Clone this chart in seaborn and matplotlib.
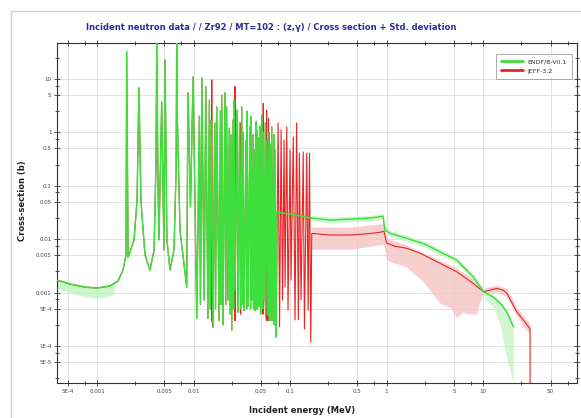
import numpy as np
import pandas as pd
import matplotlib
matplotlib.use("Agg")
import matplotlib.pyplot as plt
import seaborn as sns
from matplotlib.ticker import FixedLocator, FixedFormatter, NullFormatter
from matplotlib.patches import Rectangle
from matplotlib.lines import Line2D

# ENDF/B-VII.1 capture cross section (E in MeV, sigma in b)
endf_e = [3.85e-4, 5.25e-4, 7.5e-4, 1.0e-3, 1.36e-3, 1.65e-3, 1.86e-3, 2.0e-3,
          2.03e-3, 2.1e-3, 2.42e-3, 2.6e-3, 2.72e-3, 2.85e-3, 3.14e-3, 3.54e-3,
          3.9e-3, 4.09e-3, 4.16e-3, 4.28e-3, 4.38e-3, 4.68e-3, 4.94e-3, 5.07e-3,
          5.3e-3, 5.7e-3, 6.28e-3, 6.6e-3, 6.7e-3, 6.8e-3, 7.24e-3, 8.5e-3,
          8.77e-3, 9.3e-3, 9.9e-3, 0.0108, 0.0115, 0.0118, 0.0122, 0.0129,
          0.0134, 0.0141, 0.0146, 0.0149, 0.0152, 0.0159, 0.0166, 0.0169,
          0.0174, 0.0184, 0.0190, 0.0193, 0.0196, 0.0202, 0.0212, 0.0216,
          0.0220, 0.0228, 0.0235, 0.0240, 0.0244, 0.0249, 0.0257, 0.0260,
          0.0263, 0.0269, 0.0282, 0.0289, 0.0300, 0.0308, 0.0316, 0.0321,
          0.0326, 0.0334, 0.0350, 0.0355, 0.0360, 0.0367, 0.0385, 0.0390,
          0.0395, 0.0403, 0.0415, 0.0419, 0.0424, 0.0434, 0.0445, 0.0448,
          0.0452, 0.0460, 0.0466, 0.0477, 0.0490, 0.0497, 0.0513, 0.0520,
          0.0526, 0.0537, 0.0555, 0.0561, 0.0578, 0.0590, 0.0605, 0.0612,
          0.0625, 0.0634, 0.0646, 0.0665, 0.0680, 0.0688, 0.0700, 0.0716,
          0.073, 0.113, 0.168, 0.26, 0.42, 0.675, 0.92, 0.96, 1.08, 1.62,
          2.5, 3.58, 5.33, 7.87, 10.1, 12.7, 15.0, 17.6, 20.6]
endf_s = [1.72e-3, 1.45e-3, 1.27e-3, 1.22e-3, 1.33e-3, 1.65e-3, 2.65e-3, 5.1e-3,
          32.0, 4.6e-3, 9.7e-3, 0.054, 6.8, 0.054, 5.1e-3, 2.65e-3,
          6.3e-3, 0.30, 60.0, 0.128, 9.7e-3, 3.7, 6.3e-3, 22.7,
          9.7e-3, 2.65e-3, 6.3e-3, 0.198, 60.0, 1.86, 0.0149, 1.27e-3,
          5.5, 0.04, 10.9, 3.3e-4, 2.0, 6e-4, 10.4, 7.3e-4,
          7.1, 3.3e-4, 4.0, 5e-4, 1.7, 2.27e-4, 1.5, 5e-4,
          3.0, 3.0e-4, 2.5, 6e-4, 5.0, 2.5e-4, 5.5, 6e-4,
          3.0, 7.3e-4, 1.2, 4e-4, 0.9, 2.0e-4, 1.7, 5e-4,
          4.0, 1.1e-3, 2.6, 4.3e-4, 1.5, 5e-4, 3.0, 6e-4,
          1.0, 4.6e-4, 0.72, 5e-4, 2.5, 5.6e-4, 1.26, 5e-4,
          2.0, 7.3e-4, 0.9, 5e-4, 0.47, 4.6e-4, 1.6, 5e-4,
          1.11, 5e-4, 0.8, 5.6e-4, 1.3, 4e-4, 2.1, 5e-4,
          1.0, 7.3e-4, 1.5, 4e-4, 0.72, 3.8e-4, 1.0, 3e-4,
          0.6, 3e-4, 1.26, 3.0e-4, 0.9, 2.5e-4, 0.47, 1.48e-4,
          0.0324, 0.0284, 0.0249, 0.0228, 0.0238, 0.0249, 0.027, 0.0149, 0.013, 0.0104,
          8.1e-3, 5.8e-3, 4.07e-3, 2.0e-3, 1.04e-3, 8.3e-4, 6.4e-4, 4.4e-4, 2.3e-4]

# ENDF std. deviation band
endf_band_e = [3.85e-4, 5.25e-4, 7.5e-4, 1.0e-3, 1.36e-3, 1.5e-3]
endf_band_hi = [1.85e-3, 1.57e-3, 1.37e-3, 1.32e-3, 1.44e-3, 1.6e-3]
endf_band_lo = [1.2e-3, 1.0e-3, 8.5e-4, 8.0e-4, 8.8e-4, 9.5e-4]
endf_band2_e = [0.073, 0.113, 0.168, 0.26, 0.42, 0.675, 0.92, 0.96, 1.08, 1.62,
                2.5, 3.58, 5.33, 7.87, 10.1, 12.7, 15.0, 17.6, 20.6]
endf_band2_hi = [0.036, 0.032, 0.028, 0.026, 0.027, 0.028, 0.030, 0.017, 0.0147, 0.0118,
                 9.2e-3, 6.6e-3, 4.6e-3, 2.25e-3, 1.15e-3, 9.3e-4, 7.0e-4, 4.8e-4, 2.6e-4]
endf_band2_lo = [0.0285, 0.025, 0.022, 0.020, 0.021, 0.022, 0.0238, 0.0131, 0.0114, 9.1e-3,
                 7.1e-3, 5.1e-3, 3.6e-3, 1.75e-3, 9.0e-4, 5.4e-4, 2.5e-4, 6e-5, 2e-5]

# JEFF-3.2: follows ENDF below 72 keV except for these few resonances
jeff_extra_e = [0.01538, 0.01545, 0.01552, 0.02675, 0.02685, 0.02695, 0.03065, 0.0307, 0.03075,
                0.0527, 0.0528, 0.0529, 0.0570, 0.0572, 0.0574, 0.0596, 0.0598, 0.0601]
jeff_extra_s = [3e-4, 9.6, 3e-4, 3e-4, 7.2, 3e-4, 4e-4, 1.5, 4e-4,
                4e-4, 3.5, 4e-4, 3e-4, 2.6, 3e-4, 3e-4, 1.8, 3e-4]

# JEFF-3.2 above 72 keV
jeff_e = [0.0724, 0.0752, 0.0779, 0.0808, 0.0837, 0.0867, 0.0888, 0.0925,
          0.0953, 0.100, 0.1024, 0.108, 0.1127, 0.117, 0.122, 0.125, 0.130, 0.137,
          0.141, 0.149, 0.154, 0.159, 0.164, 0.168, 0.26, 0.42, 0.675, 0.857,
          0.94, 1.0, 1.22, 1.62, 2.22, 3.58, 5.33, 7.9, 10.1, 11.8, 13.9, 16.1,
          17.6, 22.3, 27.2, 30.7, 30.7]
jeff_s = [7.3e-4, 1.5, 2.3e-4, 1.11, 7.3e-4, 0.72, 1.27e-3, 1.26,
          4.7e-4, 0.47, 1.72e-3, 0.82, 3.1e-4, 1.5, 3.1e-4, 0.41, 7.3e-4, 0.43,
          2.1e-4, 0.41, 4.7e-4, 0.41, 1.19e-4, 0.0129, 0.012, 0.012, 0.0128, 0.0135,
          0.0141, 8.5e-3, 7.4e-3, 6.76e-3, 5.5e-3, 3.54e-3, 2.46e-3, 1.49e-3, 1.04e-3, 1.12e-3, 1.2e-3, 1.12e-3,
          9.8e-4, 4.4e-4, 2.8e-4, 2.1e-4, 1.0e-5]

jeff_band_e = [0.168, 0.26, 0.42, 0.675, 0.857, 0.94, 1.0, 1.62, 2.4, 3.58, 4.6, 5.3,
               6.2, 7.0, 8.5, 9.4, 10.1, 13.9, 17.6, 22.3, 27.2, 30.7]
jeff_band_hi = [0.0169, 0.0169, 0.0169, 0.0185, 0.0193, 0.0202, 0.0105, 7.8e-3, 5.5e-3, 4.07e-3,
                3.3e-3, 2.9e-3, 2.4e-3, 2.1e-3, 1.65e-3, 1.4e-3, 1.2e-3, 1.4e-3, 1.2e-3,
                5.4e-4, 3.4e-4, 2.6e-4]
jeff_band_lo = [6.5e-3, 6.5e-3, 6.5e-3, 7.3e-3, 8.0e-3, 8.0e-3, 4.07e-3, 3.0e-3, 1.6e-3, 6.4e-4,
                5.2e-4, 3.4e-4, 4.3e-4, 4.0e-4, 4.0e-4, 7.3e-4, 9.3e-4, 1.04e-3, 8.5e-4,
                3.7e-4, 2.1e-4, 1.7e-4]

x_ticks = [5e-4, 1e-3, 5e-3, 0.01, 0.05, 0.1, 0.5, 1, 5, 10, 50]
x_labels = ["5E-4", "0.001", "0.005", "0.01", "0.05", "0.1", "0.5", "1", "5", "10", "50"]
y_ticks = [5e-5, 1e-4, 5e-4, 1e-3, 5e-3, 0.01, 0.05, 0.1, 0.5, 1, 5, 10]
y_labels = ["5E-5", "1E-4", "5E-4", "0.001", "0.005", "0.01", "0.05", "0.1", "0.5", "1", "5", "10"]

green = "#3ddf3d"
red = "#e82424"

# build the JEFF curve: ENDF points below 72 keV + its own resonances, then its own data
endf_e_arr = np.array(endf_e)
endf_s_arr = np.array(endf_s)
low = endf_e_arr < 0.0720
lo_e = np.concatenate([endf_e_arr[low], jeff_extra_e])
lo_s = np.concatenate([endf_s_arr[low], jeff_extra_s])
order = np.argsort(lo_e, kind="stable")
jeff_all_e = np.concatenate([lo_e[order], jeff_e])
jeff_all_s = np.concatenate([lo_s[order], jeff_s])

df_endf = pd.DataFrame({"E": endf_e, "xs": endf_s})
df_jeff = pd.DataFrame({"E": jeff_all_e, "xs": jeff_all_s})

sns.set_style("ticks")
plt.rcParams["font.family"] = ["DejaVu Sans"]

fig = plt.figure(figsize=(5.81, 4.18), dpi=100)
ax = fig.add_axes([0.0981, 0.0837, 0.895, 0.8134])

fig.patches.append(Rectangle((11 / 581, -0.1), 1.2, 1.1 - 11 / 418, transform=fig.transFigure,
                             fill=False, edgecolor="#cfcfcf", linewidth=1.0, zorder=0))

ax.fill_between(jeff_band_e, jeff_band_lo, jeff_band_hi, color="#f6c4c4", alpha=0.8, lw=0, zorder=1)
ax.fill_between(endf_band_e, endf_band_lo, endf_band_hi, color="#bff3bf", alpha=0.8, lw=0, zorder=1)
ax.fill_between(endf_band2_e, endf_band2_lo, endf_band2_hi, color="#bff3bf", alpha=0.7, lw=0, zorder=1)

sns.lineplot(data=df_jeff, x="E", y="xs", ax=ax, color=red, lw=0.8, sort=False, estimator=None, zorder=2)
sns.lineplot(data=df_endf, x="E", y="xs", ax=ax, color=green, lw=1.05, sort=False,
             estimator=None, zorder=3)

ax.set_xscale("log")
ax.set_yscale("log")
ax.set_xlim(3.85e-4, 94)
ax.set_ylim(2.04e-5, 47)

ax.xaxis.set_major_locator(FixedLocator(x_ticks))
ax.xaxis.set_major_formatter(FixedFormatter(x_labels))
ax.yaxis.set_major_locator(FixedLocator(y_ticks))
ax.yaxis.set_major_formatter(FixedFormatter(y_labels))
x_minor = [m * 10.0 ** k for k in range(-4, 2) for m in (2.5, 7.5)]
y_minor = [m * 10.0 ** k for k in range(-5, 2) for m in (2.5, 7.5)]
ax.xaxis.set_minor_locator(FixedLocator(x_minor))
ax.yaxis.set_minor_locator(FixedLocator(y_minor))
ax.xaxis.set_minor_formatter(NullFormatter())
ax.yaxis.set_minor_formatter(NullFormatter())

ax.tick_params(which="both", direction="inout", top=True, right=True, labelsize=4,
               labelcolor="#444444", color="#333333", width=0.6, pad=2)
ax.tick_params(which="major", length=4)
ax.tick_params(which="minor", length=2.5)
ax.grid(True, which="major", color="#dcdcdc", lw=0.6)
ax.set_axisbelow(True)
for sp in ax.spines.values():
    sp.set_color("#333333")
    sp.set_linewidth(0.8)

ax.set_xlabel("Incident energy (MeV)", fontsize=6, fontweight="bold", color="#222222")
ax.set_ylabel("Cross-section (b)", fontsize=6, fontweight="bold", color="#222222")
ax.xaxis.set_label_coords(0.471, -0.069)
ax.yaxis.set_label_coords(-0.057, 0.535)

fig.text(271 / 581, 1 - 27 / 418, "Incident neutron data / / Zr92 / MT=102 : (z,γ) / Cross section + Std. deviation",
         ha="center", va="center", fontsize=6, fontweight="bold", color="#2b2ba0")

handles = [Line2D([], [], color=green, lw=2), Line2D([], [], color=red, lw=2)]
leg = ax.legend(handles, ["ENDF/B-VII.1", "JEFF-3.2"], loc="upper right",
                bbox_to_anchor=(1 - 5 / 520, 1 - 11 / 340), fontsize=4.5,
                frameon=True, fancybox=False, edgecolor="#888888", borderaxespad=0,
                handlelength=3.5, borderpad=0.8, labelspacing=0.6)
leg.get_frame().set_linewidth(0.6)
for t in leg.get_texts():
    t.set_color("#333333")

fig.savefig("out.png", dpi=100)
